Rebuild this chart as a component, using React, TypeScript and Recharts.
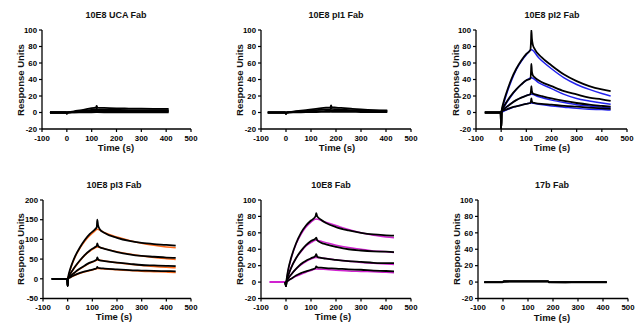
import React from 'react';
import { LineChart, Line, XAxis, YAxis } from 'recharts';

// ---------- data ----------
const xTicks = [-100, 0, 100, 200, 300, 400, 500];
const yTicks100 = [-20, 0, 20, 40, 60, 80, 100];
const yTicks200 = [-50, 0, 50, 100, 150, 200];

// 10E8 UCA Fab
const ucaT = [-68, -3, 0, 3, 30, 60, 90, 118, 120, 123, 150, 200, 250, 300, 350, 410];
const uca1 = [0, 0, -1.5, 0, 1.5, 3, 4.8, 6.2, 8, 6, 5.5, 5, 4.8, 4.6, 4.5, 4.5];
const uca2 = [0, 0, -1, 0, 1, 2, 3, 4, 5, 3.8, 3.5, 3.2, 3, 3, 3, 3];
const uca3 = [0, 0, -0.5, 0, 0.6, 1.2, 1.8, 2.5, 3, 2.3, 2.2, 2, 2, 2, 2, 2];
const uca4 = [0, 0, 0, 0, 0.3, 0.6, 1, 1.3, 1.6, 1.2, 1.1, 1, 1, 1, 1, 1];
const uca5 = [0, 0, 0, 0, 0.1, 0.2, 0.3, 0.4, 0.5, 0.4, 0.3, 0.3, 0.3, 0.3, 0.3, 0.3];

// 10E8 pI1 Fab
const pi1T = [-73, -3, 0, 3, 40, 80, 120, 160, 178, 180, 183, 220, 260, 300, 350, 405];
const pi1a = [0, 0, -2, 0, 1.5, 3, 4.5, 5.8, 6.3, 8.5, 6.5, 5.5, 4.6, 3.8, 3, 2.5];
const pi1b = [0, 0, -1.5, 0, 1, 2, 3, 3.8, 4.2, 5.5, 4.3, 3.6, 3, 2.6, 2.2, 2];
const pi1c = [0, 0, -1, 0, 0.5, 1, 1.5, 2, 2.3, 3, 2.3, 2, 1.8, 1.6, 1.4, 1.2];
const pi1d = [0, 0, -0.5, 0, 0.2, 0.4, 0.6, 0.8, 0.9, 1.2, 0.9, 0.8, 0.7, 0.6, 0.5, 0.4];

// 10E8 pI2 Fab
const pi2T = [-65, -2, 0, 2, 10, 20, 40, 60, 80, 100, 116, 119, 120, 122, 126, 135, 160, 200, 250, 300, 350, 400, 435];
const pi2d1 = [0, 0, -20, 2, 13, 23, 40, 53, 63, 71, 76, 90, 100, 90, 82, 76, 67, 57, 46, 38, 32, 28, 26];
const pi2d2 = [0, 0, -20, 2, 7, 12, 21, 28, 34, 39, 41, 52, 59, 50, 45, 42, 37, 32, 26, 22, 18, 16, 14];
const pi2d3 = [0, 0, -20, 2, 4, 6.5, 11, 15, 18, 20.5, 22, 28, 32, 26, 23, 22, 20, 17, 14, 11.5, 9.5, 8, 7];
const pi2d4 = [0, 0, -20, 2, 2.5, 3.5, 6, 7.5, 9, 10.5, 11.5, 15, 17, 13.5, 12, 11.5, 10.5, 9.5, 8, 7, 6, 5, 4.5];
const pi2FitT = [0, 10, 20, 40, 60, 80, 100, 120, 150, 200, 250, 300, 350, 400, 435];
const pi2f1 = [0, 11, 21, 38, 52, 62, 70, 76, 66, 53, 42, 34, 28, 23, 20];
const pi2f2 = [0, 6, 11, 20, 28, 34, 39, 42, 36, 29, 22, 17, 14, 11.5, 10];
const pi2f3 = [0, 3, 6, 11, 15, 18, 20.5, 22, 19, 15, 12, 9.5, 8, 6.5, 6];
const pi2f4 = [0, 1.5, 3, 5.5, 7.5, 9, 10.5, 11.5, 10, 8, 6.5, 5, 4, 3.5, 3];

// 10E8 pI3 Fab
const pi3T = [-65, -2, 0, 2, 10, 20, 30, 50, 70, 90, 110, 118, 120, 123, 130, 150, 200, 250, 300, 350, 400, 438];
const pi3d1 = [0, 0, -18, 3, 24, 42, 57, 80, 99, 114, 125, 131, 150, 137, 126, 116, 104, 96, 91, 88, 86, 84];
const pi3d2 = [0, 0, -18, 2, 12, 22, 31, 47, 61, 72, 80, 84, 90, 84, 80, 76, 68, 62, 58, 56, 54, 53];
const pi3d3 = [0, 0, -18, 1, 6, 12, 17, 26, 34, 41, 46, 49, 54, 50, 47, 45, 41, 38, 35, 34, 33, 32];
const pi3d4 = [0, 0, -18, 1, 3.5, 7, 10, 15, 19, 22, 25, 27, 30, 28, 27, 26, 24, 22, 21, 20, 19.5, 19];
const pi3FitT = [0, 10, 20, 30, 50, 70, 90, 110, 120, 150, 200, 250, 300, 350, 400, 438];
const pi3f1 = [0, 22, 40, 55, 78, 96, 110, 121, 126, 117, 106, 97, 90, 85, 81, 79];
const pi3f2 = [0, 11, 21, 30, 46, 60, 70, 78, 81, 76, 69, 63, 58, 54, 51, 49];
const pi3f3 = [0, 6, 11, 16, 25, 33, 40, 45, 48, 45, 41, 37, 34, 31, 29, 28];
const pi3f4 = [0, 3, 6, 9, 14, 18, 21, 24, 26, 25, 23, 21, 19, 18, 17, 16];

// 10E8 Fab
const fabT = [-3, 0, 2, 10, 20, 40, 60, 80, 100, 118, 121, 125, 140, 160, 200, 250, 300, 350, 400, 432];
const fabd1 = [0, -5, 2, 17, 29, 47, 60, 69, 75, 80, 84, 80, 76, 72, 67, 63, 60, 58, 57, 56.5];
const fabd2 = [0, -5, 1, 9, 17, 29, 38, 45, 50, 53, 54, 51, 48, 46, 43, 40, 38.5, 37.5, 37, 36.5];
const fabd3 = [0, -5, 0.5, 5, 9, 16, 22, 26, 29, 32, 34, 31, 29.5, 28.5, 27, 25.5, 24.5, 23.5, 23, 23];
const fabd4 = [0, -5, 0, 2, 4, 8, 11, 13, 15, 17, 19, 18, 17.5, 17, 16.5, 15.5, 15, 14, 13.5, 13];
const fabFitT = [-65, 0, 10, 20, 40, 60, 80, 100, 120, 150, 200, 250, 300, 350, 400, 432];
const fabf1 = [0, 0, 16, 28, 46, 58, 67, 73, 77, 74, 69, 64, 60, 57, 55, 54];
const fabf2 = [0, 0, 9, 17, 29, 37, 44, 48, 51, 49, 45, 42, 40, 38, 37, 36];
const fabf3 = [0, 0, 5, 9, 16, 21, 25, 28, 30, 29, 27, 25.5, 24, 23, 22, 21.5];
const fabf4 = [0, 0, 2, 4, 7, 9.5, 12, 14, 16, 15.5, 14.5, 13.5, 13, 12.5, 12, 11.5];

// 17b Fab
const b17T = [-75, -2, 3, 50, 100, 150, 180, 185, 250, 300, 350, 415];
const b17a = [0, 0, 1, 1.2, 1.2, 1.2, 1.2, 0, 0, 0, 0, 0];
const b17b = [0, 0, 0.8, 0.8, 0.8, 0.8, 0.8, 0, -0.2, 0, 0, 0];
const b17c = [-0.3, -0.3, 0.4, 0.5, 0.5, 0.5, 0.5, -0.3, -0.3, -0.2, -0.2, -0.2];

// ---------- helpers ----------
const zip = (t: number[], v: number[]) => t.map((x, i) => ({ t: x, v: v[i] }));

const W = 642;
const H = 325;
const FONT = '"Liberation Sans", Arial, sans-serif';
const BLUE = '#2222ee';
const ORANGE = '#ff6a1a';
const MAGENTA = '#d022d0';

type Series = { data: { t: number; v: number }[]; color: string; width: number };

type PanelProps = {
  title: string;
  x0: number;
  x1: number;
  y0: number;
  y1: number;
  yDomain: [number, number];
  yTicks: number[];
  series: Series[];
  titleX: number;
  titleY: number;
  yLabelX: number;
  timeX: number;
  timeY: number;
};

const YAW = 30;
const XAH = 20;

function XTick(props: any) {
  const { x, y, payload } = props;
  return (
    <text x={x} y={y + 6.5} textAnchor="middle" fontSize={7.8} fontWeight={700} fill="#000" fontFamily={FONT}>
      {payload.value}
    </text>
  );
}

function YTick(props: any) {
  const { x, y, payload } = props;
  return (
    <text x={x} y={y + 2.7} textAnchor="end" fontSize={7.8} fontWeight={700} fill="#000" fontFamily={FONT}>
      {payload.value}
    </text>
  );
}

function Panel(p: PanelProps) {
  const yCenter = (p.y0 + p.y1) / 2;
  const pad = 24;
  const left = p.x0 - YAW - pad;
  const top = p.y0 - pad;
  const cw = p.x1 - p.x0 + YAW + 2 * pad;
  const ch = p.y1 - p.y0 + XAH + 2 * pad;
  return (
    <>
      <div style={{ position: 'absolute', left, top }}>
        <LineChart
          width={cw}
          height={ch}
          margin={{ left: pad, right: pad, top: pad, bottom: pad }}
          style={{ overflow: 'visible' }}
        >
          <XAxis
            type="number"
            dataKey="t"
            domain={[-100, 500]}
            ticks={xTicks}
            interval={0}
            allowDataOverflow
            height={XAH}
            tick={<XTick />}
            tickSize={3}
            tickMargin={2}
            axisLine={{ stroke: '#000', strokeWidth: 1.3 }}
            tickLine={{ stroke: '#000', strokeWidth: 1.2 }}
          />
          <YAxis
            type="number"
            dataKey="v"
            domain={p.yDomain}
            ticks={p.yTicks}
            interval={0}
            allowDataOverflow
            width={YAW}
            tick={<YTick />}
            tickSize={3}
            tickMargin={2}
            axisLine={{ stroke: '#000', strokeWidth: 1.3 }}
            tickLine={{ stroke: '#000', strokeWidth: 1.2 }}
          />
          {p.series.map((s, i) => (
            <Line
              key={i}
              data={s.data}
              dataKey="v"
              type="monotone"
              stroke={s.color}
              strokeWidth={s.width}
              dot={false}
              activeDot={false}
              isAnimationActive={false}
            />
          ))}
        </LineChart>
      </div>
      <div
        style={{
          position: 'absolute',
          left: p.titleX - 100,
          top: p.titleY - 6,
          width: 200,
          height: 12,
          lineHeight: '12px',
          textAlign: 'center',
          fontFamily: FONT,
          fontWeight: 700,
          fontSize: 9,
          color: '#111',
          whiteSpace: 'nowrap',
        }}
      >
        {p.title}
      </div>
      <div
        style={{
          position: 'absolute',
          left: p.yLabelX - 60,
          top: yCenter - 5,
          width: 120,
          height: 10,
          lineHeight: '10px',
          textAlign: 'center',
          fontFamily: FONT,
          fontWeight: 700,
          fontSize: 9.5,
          color: '#111',
          whiteSpace: 'nowrap',
          transform: 'rotate(-90deg)',
        }}
      >
        Response Units
      </div>
      <div
        style={{
          position: 'absolute',
          left: p.timeX - 60,
          top: p.timeY - 5,
          width: 120,
          height: 10,
          lineHeight: '10px',
          textAlign: 'center',
          fontFamily: FONT,
          fontWeight: 700,
          fontSize: 9.5,
          color: '#111',
          whiteSpace: 'nowrap',
        }}
      >
        Time (s)
      </div>
    </>
  );
}

const blk = (t: number[], v: number[]): Series => ({ data: zip(t, v), color: '#000', width: 1.8 });
const fit = (t: number[], v: number[], c: string): Series => ({ data: zip(t, v), color: c, width: 1.5 });

export default function App() {
  return (
    <div style={{ position: 'absolute', left: 0, top: 0, width: W, height: H, background: '#fff', overflow: 'hidden' }}>
      <Panel
        title="10E8 UCA Fab"
        x0={42} x1={191} y0={30} y1={129}
        yDomain={[-20, 100]} yTicks={yTicks100}
        titleX={116} titleY={15} yLabelX={21} timeX={116} timeY={148}
        series={[blk(ucaT, uca5), blk(ucaT, uca4), blk(ucaT, uca3), blk(ucaT, uca2), blk(ucaT, uca1)]}
      />
      <Panel
        title="10E8 pI1 Fab"
        x0={261} x1={411} y0={30} y1={129}
        yDomain={[-20, 100]} yTicks={yTicks100}
        titleX={336} titleY={15} yLabelX={240} timeX={337} timeY={148}
        series={[blk(pi1T, pi1d), blk(pi1T, pi1c), blk(pi1T, pi1b), blk(pi1T, pi1a)]}
      />
      <Panel
        title="10E8 pI2 Fab"
        x0={476} x1={627} y0={30} y1={129}
        yDomain={[-20, 100]} yTicks={yTicks100}
        titleX={552} titleY={15} yLabelX={456} timeX={552} timeY={148}
        series={[
          fit(pi2FitT, pi2f1, BLUE), fit(pi2FitT, pi2f2, BLUE), fit(pi2FitT, pi2f3, BLUE), fit(pi2FitT, pi2f4, BLUE),
          blk(pi2T, pi2d1), blk(pi2T, pi2d2), blk(pi2T, pi2d3), blk(pi2T, pi2d4),
        ]}
      />
      <Panel
        title="10E8 pI3 Fab"
        x0={43} x1={191} y0={199.5} y1={298}
        yDomain={[-50, 200]} yTicks={yTicks200}
        titleX={114} titleY={185} yLabelX={21} timeX={114} timeY={317}
        series={[
          fit(pi3FitT, pi3f1, ORANGE), fit(pi3FitT, pi3f2, ORANGE), fit(pi3FitT, pi3f3, ORANGE), fit(pi3FitT, pi3f4, ORANGE),
          blk(pi3T, pi3d1), blk(pi3T, pi3d2), blk(pi3T, pi3d3), blk(pi3T, pi3d4),
        ]}
      />
      <Panel
        title="10E8 Fab"
        x0={261} x1={411} y0={199.5} y1={298}
        yDomain={[-20, 100]} yTicks={yTicks100}
        titleX={331} titleY={185} yLabelX={240} timeX={333} timeY={317}
        series={[
          fit(fabFitT, fabf1, MAGENTA), fit(fabFitT, fabf2, MAGENTA), fit(fabFitT, fabf3, MAGENTA), fit(fabFitT, fabf4, MAGENTA),
          blk(fabT, fabd1), blk(fabT, fabd2), blk(fabT, fabd3), blk(fabT, fabd4),
        ]}
      />
      <Panel
        title="17b Fab"
        x0={478} x1={628} y0={199.5} y1={298}
        yDomain={[-20, 100]} yTicks={yTicks100}
        titleX={552} titleY={185} yLabelX={457} timeX={552} timeY={318}
        series={[blk(b17T, b17c), blk(b17T, b17b), blk(b17T, b17a)]}
      />
    </div>
  );
}
